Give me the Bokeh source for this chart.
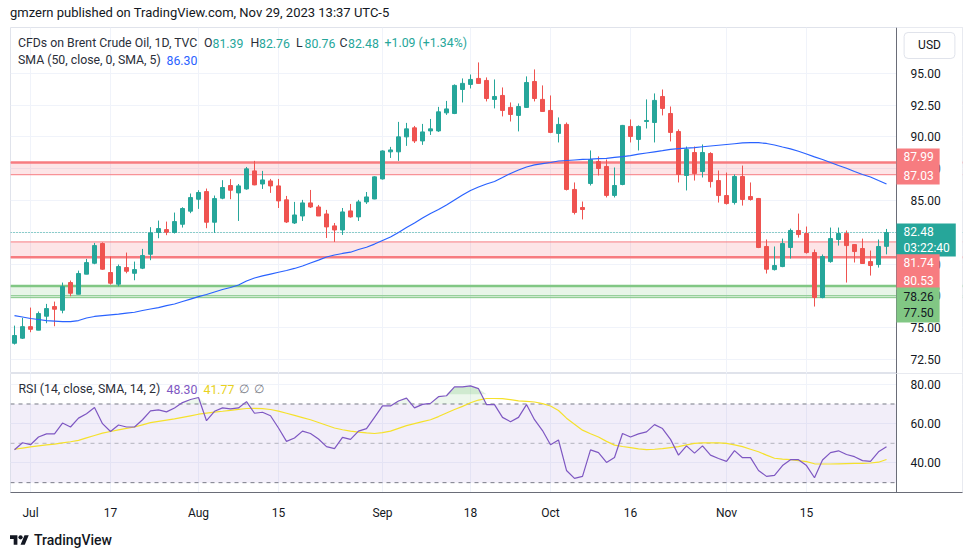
import numpy as np
import pandas as pd
from bokeh.plotting import figure
from bokeh.layouts import column
from bokeh.models import (Range1d, FixedTicker, Label, Span, BoxAnnotation, Div,
                          ColumnDataSource, NumeralTickFormatter)
from bokeh.embed import file_html
from bokeh.resources import INLINE

# ---------------- data ----------------
dates = pd.bdate_range("2023-06-29", "2023-11-29")   # 110 daily bars

opens = [73.76, 74.16, 75.07, 74.79, 75.89, 76.65, 76.36, 78.54, 77.62, 79.20,
         80.06, 81.61, 79.33, 78.41, 79.72, 79.27, 79.67, 80.77, 82.48, 82.71,
         82.48, 83.13, 84.16, 85.10, 85.70, 83.29, 85.18, 86.18, 85.60, 85.91,
         87.33, 86.30, 86.54, 86.15, 85.05, 83.23, 83.78, 84.81, 84.49, 83.94,
         83.00, 82.68, 84.18, 83.71, 84.89, 85.12, 86.70, 88.83, 88.83, 90.01,
         90.72, 89.69, 90.48, 90.48, 91.90, 91.85, 93.74, 94.14, 94.61, 94.45,
         92.96, 93.27, 92.33, 91.70, 92.33, 94.37, 92.96, 92.09, 90.28, 90.99,
         85.87, 84.45, 86.34, 88.07, 87.68, 85.40, 86.26, 90.83, 89.81, 91.22,
         91.14, 93.19, 91.85, 90.43, 86.97, 88.78, 87.28, 88.70, 86.57, 85.39,
         84.84, 86.89, 85.31, 85.16, 81.38, 79.56, 79.80, 81.30, 82.64, 82.40,
         80.90, 77.36, 80.19, 81.93, 82.40, 81.53, 81.22, 80.19, 79.96, 81.39]
highs = [75.15, 75.76, 76.57, 76.26, 76.86, 77.04, 78.54, 78.70, 79.48, 80.40,
         81.66, 81.70, 80.59, 79.96, 80.90, 80.19, 81.19, 82.90, 83.42, 83.34,
         84.05, 84.47, 85.55, 85.81, 85.94, 85.39, 86.60, 86.68, 86.30, 87.64,
         88.12, 87.33, 86.70, 86.70, 85.36, 84.89, 85.05, 85.83, 84.65, 84.26,
         83.23, 84.41, 84.73, 85.05, 85.67, 86.90, 88.95, 89.22, 91.19, 91.11,
         90.87, 91.03, 91.42, 92.37, 92.84, 94.14, 94.61, 94.92, 95.87, 94.69,
         94.53, 93.90, 92.72, 92.64, 94.77, 95.32, 94.06, 93.27, 91.54, 91.14,
         86.42, 84.92, 88.94, 88.47, 88.23, 87.60, 90.95, 91.38, 90.91, 92.96,
         93.43, 93.74, 92.40, 90.60, 89.25, 89.25, 89.41, 88.80, 87.36, 87.20,
         87.05, 87.75, 86.42, 85.20, 81.93, 81.38, 82.00, 82.79, 83.97, 82.95,
         81.14, 80.75, 82.87, 82.87, 82.64, 81.55, 82.00, 81.06, 81.93, 82.76]
lows = [73.66, 74.10, 74.63, 74.79, 75.34, 75.10, 76.12, 77.46, 77.62, 79.20,
        79.98, 79.55, 78.38, 78.25, 79.27, 78.72, 79.60, 80.30, 82.03, 82.27,
        82.40, 82.87, 84.00, 84.34, 82.82, 82.45, 85.10, 85.10, 83.39, 85.85,
        86.20, 85.91, 85.60, 84.41, 83.23, 83.15, 83.39, 84.41, 83.78, 82.05,
        81.74, 82.29, 83.65, 83.39, 84.73, 85.10, 86.65, 88.35, 88.12, 89.30,
        89.53, 89.38, 90.16, 90.40, 91.74, 91.80, 92.72, 93.82, 94.20, 92.80,
        92.25, 91.62, 91.22, 90.44, 92.30, 92.80, 92.00, 90.30, 89.57, 85.79,
        83.90, 83.51, 86.18, 86.97, 85.24, 85.24, 86.20, 89.57, 88.94, 90.67,
        89.57, 91.70, 89.65, 86.42, 85.79, 86.57, 86.81, 86.02, 84.84, 84.68,
        84.68, 84.60, 84.99, 81.25, 79.25, 79.49, 79.75, 80.43, 82.08, 80.82,
        76.65, 77.30, 80.10, 81.45, 78.54, 80.12, 80.00, 79.09, 79.72, 80.76]
closes = [74.37, 75.07, 74.86, 76.10, 76.49, 76.44, 78.22, 77.70, 79.25, 80.11,
          81.45, 79.59, 78.49, 79.80, 79.43, 79.56, 80.67, 82.45, 82.79, 82.50,
          83.34, 84.37, 85.23, 85.63, 83.29, 85.15, 86.02, 85.81, 86.15, 87.49,
          86.23, 86.62, 86.15, 84.97, 83.31, 83.86, 84.81, 84.49, 83.78, 82.92,
          82.68, 84.10, 83.71, 84.89, 85.28, 86.86, 88.90, 88.98, 90.01, 90.64,
          89.69, 90.40, 90.64, 91.98, 92.21, 94.06, 94.22, 94.53, 94.22, 93.03,
          93.19, 92.09, 91.77, 92.40, 94.29, 93.03, 92.01, 90.36, 90.99, 85.87,
          84.06, 84.29, 88.23, 87.52, 85.40, 86.18, 90.91, 90.04, 90.83, 91.30,
          92.88, 92.25, 90.36, 87.05, 89.01, 87.12, 88.78, 86.49, 85.39, 84.76,
          86.89, 85.08, 85.08, 81.30, 79.59, 79.88, 81.61, 82.64, 82.32, 80.90,
          77.36, 80.59, 82.00, 82.40, 81.45, 80.98, 80.04, 79.88, 81.38, 82.48]
sma50 = [75.94, 75.83, 75.71, 75.63, 75.55, 75.51, 75.47, 75.47, 75.55, 75.75,
         75.87, 75.94, 76.00, 76.06, 76.14, 76.20, 76.34, 76.46, 76.57, 76.73,
         76.85, 77.05, 77.24, 77.43, 77.60, 77.80, 77.99, 78.15, 78.35, 78.66,
         78.90, 79.06, 79.21, 79.35, 79.49, 79.65, 79.84, 80.08, 80.31, 80.55,
         80.71, 80.83, 80.93, 81.14, 81.32, 81.57, 81.85, 82.13, 82.48, 82.87,
         83.23, 83.62, 83.98, 84.29, 84.65, 85.04, 85.43, 85.79, 86.06, 86.30,
         86.50, 86.81, 87.13, 87.40, 87.64, 87.80, 87.91, 87.99, 88.11, 88.15,
         88.19, 88.23, 88.25, 88.29, 88.32, 88.39, 88.45, 88.54, 88.65, 88.74,
         88.83, 88.92, 89.02, 89.08, 89.13, 89.17, 89.23, 89.29, 89.35, 89.41,
         89.47, 89.53, 89.55, 89.55, 89.49, 89.37, 89.21, 89.06, 88.88, 88.66,
         88.43, 88.23, 87.99, 87.76, 87.54, 87.28, 87.05, 86.85, 86.57, 86.30]
rsi = [46.7, 50.3, 49.3, 53.2, 54.8, 54.8, 60.3, 58.3, 62.8, 65.0,
       68.2, 60.0, 56.0, 59.3, 58.3, 58.3, 62.0, 66.5, 67.0, 66.0,
       68.0, 70.7, 72.3, 73.3, 61.5, 66.3, 68.0, 67.5, 68.0, 71.2,
       65.3, 65.8, 64.0, 57.8, 51.0, 52.7, 56.2, 55.0, 52.2, 48.3,
       47.3, 53.0, 52.0, 56.2, 57.5, 63.2, 69.0, 69.0, 71.5, 73.0,
       68.0, 69.8, 70.3, 73.7, 74.2, 78.7, 78.7, 79.2, 77.8, 69.7,
       69.7, 63.2, 61.0, 63.2, 69.7, 62.0, 56.5, 49.3, 51.7, 36.2,
       32.2, 33.2, 46.7, 45.3, 40.3, 42.8, 55.0, 53.2, 54.8, 55.8,
       59.5, 57.5, 52.0, 44.0, 48.7, 45.0, 48.7, 44.0, 42.3, 40.8,
       46.3, 42.7, 42.7, 36.2, 33.2, 33.7, 38.7, 41.7, 41.7, 38.7,
       32.5, 41.5, 45.3, 46.2, 44.3, 43.2, 41.2, 40.8, 45.7, 48.3]
rsi_ma = [47.0, 47.6, 48.2, 48.7, 49.2, 49.6, 50.2, 50.8, 51.5, 52.8,
          54.0, 55.2, 56.0, 56.8, 57.6, 58.3, 59.4, 60.5, 61.2, 61.8,
          62.4, 63.2, 64.0, 64.8, 65.4, 65.9, 66.3, 66.8, 67.3, 67.7,
          67.8, 67.6, 67.2, 66.4, 65.3, 64.2, 63.1, 62.0, 60.6, 59.2,
          57.8, 56.9, 56.2, 55.7, 55.3, 55.0, 55.4, 56.2, 57.6, 59.0,
          60.0, 61.0, 62.0, 63.6, 65.4, 67.2, 68.8, 70.6, 72.0, 72.8,
          72.8, 72.7, 72.2, 71.6, 71.3, 71.0, 70.2, 69.0, 66.7, 62.8,
          59.7, 56.7, 54.9, 53.2, 51.0, 49.1, 48.4, 47.8, 47.2, 46.8,
          47.0, 47.3, 47.8, 48.3, 49.2, 50.0, 50.2, 50.3, 50.2, 50.0,
          49.2, 48.3, 47.0, 45.7, 44.0, 42.4, 42.0, 41.7, 41.2, 40.7,
          39.6, 39.5, 39.5, 39.6, 39.7, 39.8, 39.8, 40.0, 40.4, 41.8]

tick_dates = ["2023-07-03", "2023-07-17", "2023-08-01", "2023-08-15", "2023-09-01",
              "2023-09-18", "2023-10-02", "2023-10-16", "2023-11-01", "2023-11-15"]
tick_labels = ["Jul", "17", "Aug", "15", "Sep", "18", "Oct", "16", "Nov", "15"]
price_ticks = [72.5, 75.0, 77.5, 80.0, 82.5, 85.0, 87.5, 90.0, 92.5, 95.0]
rsi_ticks = [40, 60, 80]

upper_zone = [87.03, 87.99]
middle_zone = [80.53, 81.74]
support_zone = [77.35, 78.26]
support_line = 77.50
last_close = 82.48
countdown = "03:22:40"
legend_ohlc = [("O", "81.39"), ("H", "82.76"), ("L", "80.76"), ("C", "82.48")]
legend_change = "+1.09 (+1.34%)"
sma_last = "86.30"
rsi_last, rsi_ma_last = "48.30", "41.77"

# ---------------- styling ----------------
FONT = "Roboto"
UP, DOWN = "#26A69A", "#EF5350"
TXT = "#131722"
LEG = "#2A2E39"
GRID = "#F0F3FA"
AXIS = "#6A6D78"
W = 970
LEG_SIZE = "12.3px"
SCALE_X = 110.25          # bar-index position of the price-scale line
X_END = 118.5             # frame right edge (price-scale column included)

idx = np.arange(len(dates))
o, h, l, c = map(np.array, (opens, highs, lows, closes))
tick_pos = [int(np.where(dates == pd.Timestamp(d))[0][0]) for d in tick_dates]

# helpers to place annotations at reference pixel positions
def fx(px):
    return (px - 14) / 8.0

def fy(py):
    return 95 - (py - 73) / 12.7

def fr(py):
    return 80 - (py - 384) / 2.0

def style_scale_axis(a, ticks):
    a.ticker = FixedTicker(ticks=ticks)
    a.formatter = NumeralTickFormatter(format="0.00")
    a.fixed_location = SCALE_X
    a.major_label_text_font = FONT
    a.major_label_text_font_size = "12px"
    a.major_label_text_color = TXT
    a.axis_line_color = AXIS
    a.major_tick_line_color = None
    a.minor_tick_line_color = None
    a.major_label_standoff = 8

# ---------------- price pane ----------------
p = figure(width=W, height=346, x_range=Range1d(-0.5, X_END), y_range=Range1d(71.38, 98.62),
           output_backend="svg", toolbar_location=None, x_axis_location=None,
           y_axis_location="right", min_border_left=10, min_border_right=8,
           min_border_top=0, min_border_bottom=0)
p.outline_line_color = "#E0E3EB"
p.background_fill_color = "white"
p.border_fill_color = "white"
p.ygrid.ticker = FixedTicker(ticks=price_ticks)
p.xgrid.ticker = FixedTicker(ticks=tick_pos)
for g in (p.xgrid, p.ygrid):
    g.grid_line_color = GRID
    g.grid_line_width = 1
style_scale_axis(p.yaxis[0], price_ticks)

# zones
for (lo, hi), fill, line, thick in [(upper_zone, "#F23645", "#F77C80", upper_zone[1]),
                                    (middle_zone, "#F23645", "#F77C80", middle_zone[0]),
                                    (support_zone, "#4CAF50", "#81C784", support_zone[1])]:
    p.add_layout(BoxAnnotation(bottom=lo, top=hi, right=SCALE_X, fill_color=fill, fill_alpha=0.13,
                               line_color=None, level="underlay"))
    p.add_layout(Span(location=lo, dimension="width", line_color=line, line_width=1, level="underlay"))
    p.add_layout(Span(location=hi, dimension="width", line_color=line, line_width=1, level="underlay"))
    p.add_layout(Span(location=thick, dimension="width", line_color=line, line_width=2.5, level="underlay"))
p.add_layout(Span(location=support_line, dimension="width", line_color="#81C784", line_width=1, level="underlay"))
p.add_layout(Span(location=last_close, dimension="width", line_color=UP, line_width=1,
                  line_dash="1 2", level="underlay"))

# candles
up = c >= o
for mask, col in ((up, UP), (~up, DOWN)):
    src = ColumnDataSource(dict(x=idx[mask], top=np.maximum(o, c)[mask], bottom=np.minimum(o, c)[mask],
                                high=h[mask], low=l[mask]))
    p.segment(x0="x", y0="high", x1="x", y1="low", source=src, line_color=col, line_width=1)
    p.vbar(x="x", width=0.5, top="top", bottom="bottom", source=src,
           fill_color=col, line_color=col, line_width=1)

p.line(idx, sma50, line_color="#2962FF", line_width=1.2)

# blank price-scale column (covers grid / zone lines right of the scale line)
p.add_layout(BoxAnnotation(left=SCALE_X, fill_color="white", fill_alpha=1.0, line_color=None, level="glyph"))

# legend texts
def txt(fig, x, y, text, color, size=LEG_SIZE, **kw):
    fig.add_layout(Label(x=x, y=y, text=text, text_color=color, text_font=FONT,
                         text_font_size=size, text_baseline="middle", text_align="left", **kw))

txt(p, fx(17.5), fy(43), "CFDs on Brent Crude Oil, 1D, TVC", LEG)
for (letter, val), xl in zip(legend_ohlc, [203.5, 250.0, 295.5, 339.0]):
    txt(p, fx(xl), fy(43), letter, LEG)
    txt(p, fx(xl + 8.5), fy(43), val, UP)
txt(p, fx(384), fy(43), legend_change, UP)
txt(p, fx(17.5), fy(60), "SMA (50, close, 0, SMA, 5)", LEG)
txt(p, fx(166), fy(60), sma_last, "#2962FF")

# price-scale tags
def tag(text, yc, bg, fg, lh, pad_v):
    p.add_layout(Label(x=SCALE_X, y=fy(yc), text=text, text_color=fg, text_font=FONT,
                       text_font_size="12px", text_align="left", text_baseline="middle",
                       text_line_height=lh, background_fill_color=bg, background_fill_alpha=1.0,
                       padding=dict(left=7, right=6, top=pad_v, bottom=pad_v)))

tag(f"{upper_zone[1]:.2f}\n{upper_zone[0]:.2f}", 166.0, "#F77C80", "white", 1.3, 2)
tag(f"{last_close:.2f}\n{countdown}", 239.5, UP, "white", 1.2, 1)
tag(f"{middle_zone[1]:.2f}\n{middle_zone[0]:.2f}", 271.5, "#F77C80", "white", 1.25, 2)
tag(f"{support_zone[1]:.2f}\n{support_line:.2f}", 304.5, "#81C784", TXT, 1.2, 2)
p.add_layout(Label(x=fx(929), y=fy(45), text="USD", text_color=TXT, text_font=FONT,
                   text_font_size="12px", text_align="center", text_baseline="middle",
                   background_fill_color="white", border_line_color="#E0E3EB",
                   border_radius=4, padding=dict(left=14, right=14, top=6, bottom=6)))

# ---------------- RSI pane ----------------
r = figure(width=W, height=149, x_range=p.x_range, y_range=Range1d(25, 85.5),
           output_backend="svg", toolbar_location=None, y_axis_location="right",
           min_border_left=10, min_border_right=8, min_border_top=0, min_border_bottom=28)
r.outline_line_color = "#E0E3EB"
r.background_fill_color = "white"
r.border_fill_color = "white"
r.xgrid.ticker = FixedTicker(ticks=tick_pos)
r.ygrid.ticker = FixedTicker(ticks=rsi_ticks)
for g in (r.xgrid, r.ygrid):
    g.grid_line_color = GRID
style_scale_axis(r.yaxis[0], rsi_ticks)
rx = r.xaxis[0]
rx.ticker = FixedTicker(ticks=tick_pos)
rx.major_label_overrides = {int(pos): lab for pos, lab in zip(tick_pos, tick_labels)}
rx.major_label_text_font = FONT
rx.major_label_text_font_size = "12px"
rx.major_label_text_color = TXT
rx.axis_line_color = AXIS
rx.major_tick_line_color = None
rx.minor_tick_line_color = None
rx.major_label_standoff = 7

r.add_layout(BoxAnnotation(bottom=30, top=70, right=SCALE_X, fill_color="#7E57C2", fill_alpha=0.1,
                           line_color=None, level="underlay"))
for lvl, alpha in ((70, 1.0), (50, 0.5), (30, 1.0)):
    r.add_layout(Span(location=lvl, dimension="width", line_color="#787B86", line_alpha=alpha,
                      line_width=1, line_dash="4 4", level="underlay"))
rsi_arr = np.array(rsi)
r.varea(x=idx, y1=np.full(len(idx), 70.0), y2=np.maximum(rsi_arr, 70.0),
        fill_color="#4CAF50", fill_alpha=0.10)
r.varea(x=idx, y1=np.full(len(idx), 75.0), y2=np.maximum(rsi_arr, 75.0),
        fill_color="#4CAF50", fill_alpha=0.18)
r.line(idx, rsi_ma, line_color="#F5E12C", line_width=1.2)
r.line(idx, rsi, line_color="#7E57C2", line_width=1.2)
r.add_layout(BoxAnnotation(left=SCALE_X, fill_color="white", fill_alpha=1.0, line_color=None, level="glyph"))

txt(r, fx(18), fr(389), "RSI (14, close, SMA, 14, 2)", LEG)
txt(r, fx(166), fr(389), rsi_last, "#7E57C2")
txt(r, fx(203), fr(389), rsi_ma_last, "#E8D21D")
txt(r, fx(238), fr(389), "\u2205", "#787B86")
txt(r, fx(253), fr(389), "\u2205", "#787B86")

# ---------------- header / footer ----------------
header = Div(text=('<div style="font-family:Roboto,sans-serif;font-size:13px;color:#131722;'
                   'line-height:13px;padding-left:10px;padding-top:6px;white-space:nowrap;">'
                   'gmzern published on TradingView.com, Nov 29, 2023 13:37 UTC-5</div>'),
             width=W, height=27, margin=(0, 0, 0, 0))
logo = ('<svg width="19" height="15" viewBox="0 0 36 28"><path d="M14 22H7V11H0V4h14v18zM28 22h-8l7.5-18h8L28 22z" '
        'fill="#131722"/><circle cx="20" cy="8" r="4" fill="#131722"/></svg>')
footer = Div(text=('<div style="display:flex;align-items:center;height:16px;margin-top:10px;padding-left:10px;'
                   'font-family:Roboto,sans-serif;font-size:14px;font-weight:500;color:#131722;">'
                   + logo + '<span style="margin-left:5px;">TradingView</span></div>'),
             width=W, height=35, margin=(0, 0, 0, 0))

layout = column(header, p, r, footer, spacing=0)
open("out.html", "w").write(file_html(layout, INLINE))
